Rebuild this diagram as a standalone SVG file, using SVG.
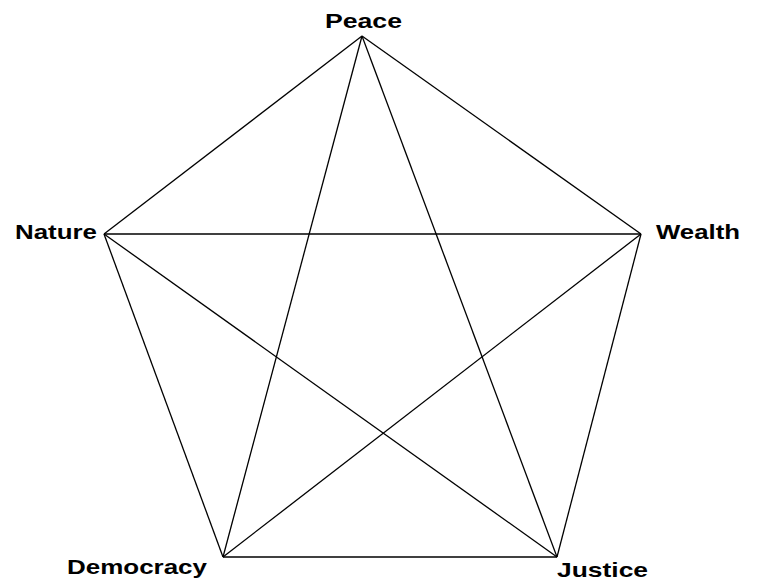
<svg xmlns="http://www.w3.org/2000/svg" width="759" height="586" viewBox="0 0 759 586">
<style>
.lbl{font-family:"Liberation Sans",Arial,sans-serif;font-weight:bold;font-size:21px;fill:#000}
.edge{stroke:#000;stroke-width:1.3;fill:none}
</style>
<rect width="759" height="586" fill="#fff"/>
<g id="connectors">
<line class="edge" x1="362" y1="36" x2="104" y2="234"/>
<line class="edge" x1="362" y1="36" x2="641" y2="234"/>
<line class="edge" x1="362" y1="36" x2="223" y2="557"/>
<line class="edge" x1="362" y1="36" x2="557" y2="557"/>
<line class="edge" x1="104" y1="234" x2="641" y2="234"/>
<line class="edge" x1="104" y1="234" x2="223" y2="557"/>
<line class="edge" x1="104" y1="234" x2="557" y2="557"/>
<line class="edge" x1="641" y1="234" x2="223" y2="557"/>
<line class="edge" x1="641" y1="234" x2="557" y2="557"/>
<line class="edge" x1="223" y1="557" x2="557" y2="557"/>
</g>
<g id="peace"><text class="lbl" x="325" y="28" textLength="77" lengthAdjust="spacingAndGlyphs">Peace</text></g>
<g id="nature"><text class="lbl" x="15" y="239" textLength="82" lengthAdjust="spacingAndGlyphs">Nature</text></g>
<g id="wealth"><text class="lbl" x="656" y="239" textLength="84" lengthAdjust="spacingAndGlyphs">Wealth</text></g>
<g id="democracy"><text class="lbl" x="67" y="574" textLength="140" lengthAdjust="spacingAndGlyphs">Democracy</text></g>
<g id="justice"><text class="lbl" x="557" y="577" font-size="24" textLength="91" lengthAdjust="spacingAndGlyphs">Justice</text></g>
</svg>
